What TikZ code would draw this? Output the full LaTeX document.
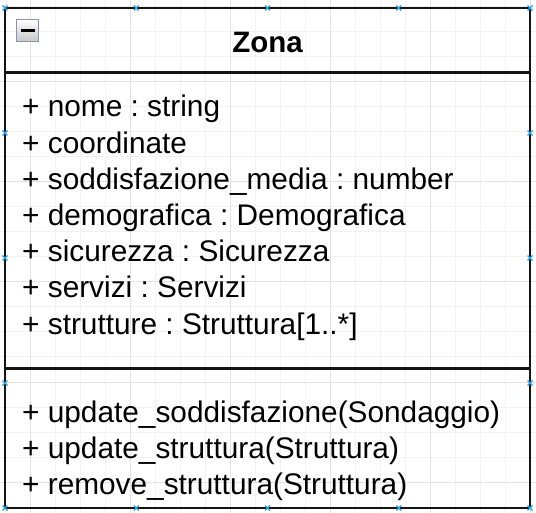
\documentclass[tikz,border=0pt]{standalone}
\usepackage{fontspec}
\setmainfont{Liberation Sans}
\frenchspacing
\begin{document}
\begin{tikzpicture}[x=1pt,y=-1pt,
  gridminor/.style={draw=black!5,line width=1pt},
  gridmajor/.style={draw=black!11,line width=1pt},
  frame/.style={draw=black!92,line width=2.6pt},
  member/.style={anchor=base west,inner sep=0pt,font=\fontsize{29.8}{36}\selectfont},
  title/.style={anchor=base,inner sep=0pt,font=\fontsize{29.5}{36}\selectfont\bfseries},
  handle/.style={draw={rgb,255:red,41;green,163;blue,230},line width=1.2pt}
]
\useasboundingbox (0,0) rectangle (536,513);
\fill[white] (0,0) rectangle (536,513);

% background grid: minor every 25, major every 100
\foreach \gx in {5,55,80,105,155,180,205,255,280,305,355,380,405,455,480,505}
  \draw[gridminor] (\gx,0) -- (\gx,513);
\foreach \gy in {7,32,57,107,132,157,207,232,257,307,332,357,407,432,457,507}
  \draw[gridminor] (0,\gy) -- (536,\gy);
\foreach \gx in {30,130,230,330,430,530}
  \draw[gridmajor] (\gx,0) -- (\gx,513);
\foreach \gy in {82,182,282,382,482}
  \draw[gridmajor] (0,\gy) -- (536,\gy);

% class frame and compartment separators
\coordinate (tl) at (5,8);
\coordinate (br) at (530,508);
\draw[frame] (tl) rectangle (br);
\draw[frame] (5,72.5) -- (530,72.5);
\draw[frame] (5,368.5) -- (530,368.5);

% collapse button
\shade[top color=white,bottom color=black!22] (16.5,19.5) rectangle (38.5,41.5);
\draw[draw={rgb,255:red,138;green,148;blue,168},line width=1.6pt] (16.5,19.5) rectangle (38.5,41.5);
\draw[line width=2.2pt,black] (21,30.5) -- (34.5,30.5);

% class name
\node[title] (name) at (267.5,53) {Zona};

% attributes
\node[member] (a1) at (22,117) {+ nome : string};
\node[member] (a2) at (22,153.2) {+ coordinate};
\node[member] (a3) at (22,189.4) {+ soddisfazione\_media : number};
\node[member] (a4) at (22,225.6) {+ demografica : Demografica};
\node[member] (a5) at (22,261.8) {+ sicurezza : Sicurezza};
\node[member] (a6) at (22,298) {+ servizi : Servizi};
\node[member] (a7) at (22,334.2) {+ strutture : Struttura[1..*]};

% operations
\node[member] (o1) at (22,422) {+ update\_soddisfazione(Sondaggio)};
\node[member] (o2) at (22,458) {+ update\_struttura(Struttura)};
\node[member] (o3) at (22,494.5) {+ remove\_struttura(Struttura)};

% selection handles around the frame
\foreach \hx in {5,136.25,267.5,398.75,530} {
  \foreach \hy in {8,508} {
    \draw[handle] (\hx-2.5,\hy-2.5) -- (\hx+2.5,\hy+2.5) (\hx-2.5,\hy+2.5) -- (\hx+2.5,\hy-2.5);
  }
}
\foreach \hy in {133,258,383} {
  \foreach \hx in {5,530} {
    \draw[handle] (\hx-2.5,\hy-2.5) -- (\hx+2.5,\hy+2.5) (\hx-2.5,\hy+2.5) -- (\hx+2.5,\hy-2.5);
  }
}
\end{tikzpicture}
\end{document}
